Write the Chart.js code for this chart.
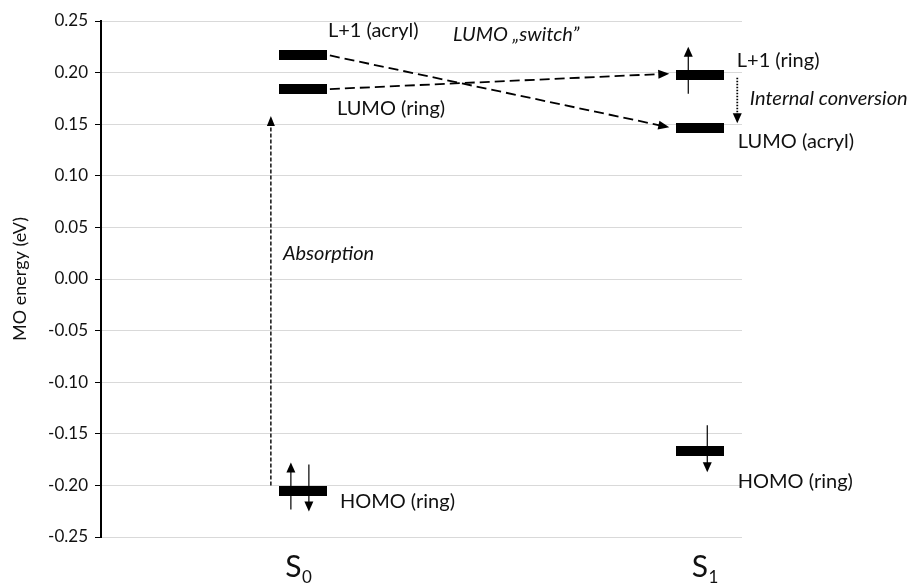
<!DOCTYPE html>
<html>
<head>
<meta charset="utf-8">
<script src="https://cdn.jsdelivr.net/npm/chart.js@4.4.1/dist/chart.umd.min.js"></script>
<style>
  html, body { margin: 0; padding: 0; background: #fff; }
  #wrap { width: 922px; height: 583px; position: relative; }
</style>
</head>
<body>
<div id="wrap"><canvas id="mo-chart"></canvas></div>
<script>
// states on the x axis and where they sit
const STATE_NAMES = ['S', 'S'];
const STATE_SUBS  = ['0', '1'];
const STATE_X     = [1, 3];

// orbital energies (eV), order: upper, lower, HOMO
const S0_ENERGY = [0.2166, 0.184, -0.205];
const S1_ENERGY = [0.198, 0.146, -0.167];
const S0_LABELS = ['L+1 (acryl)', 'LUMO (ring)', 'HOMO (ring)'];
const S1_LABELS = ['L+1 (ring)', 'LUMO (acryl)', 'HOMO (ring)'];
const S0_SPINS  = ['', '', 'updown'];
const S1_SPINS  = ['up', '', 'down'];

const Y_TICKS = [-0.25, -0.20, -0.15, -0.10, -0.05, 0.00, 0.05, 0.10, 0.15, 0.20, 0.25];

const FONT = 'Lato, "Open Sans", sans-serif';
const INK  = '#111';

// a level is drawn as a thick black bar
const barImg = document.createElement('canvas');
barImg.width = 48;
barImg.height = 10;
(function () {
    const c = barImg.getContext('2d');
    c.fillStyle = '#000';
    c.fillRect(0, 0, 48, 10);
})();

const levelPoints = [
    ...S0_ENERGY.map(e => ({ x: STATE_X[0], y: e })),
    ...S1_ENERGY.map(e => ({ x: STATE_X[1], y: e })),
];

function arrowHead(ctx, x, y, ang, len, w) {
    ctx.save();
    ctx.translate(x, y);
    ctx.rotate(ang);
    ctx.beginPath();
    ctx.moveTo(0, 0);
    ctx.lineTo(-len, -w / 2);
    ctx.lineTo(-len, w / 2);
    ctx.closePath();
    ctx.fill();
    ctx.restore();
}

function arrow(ctx, x1, y1, x2, y2, dash, lw, len, w) {
    const ang = Math.atan2(y2 - y1, x2 - x1);
    ctx.save();
    ctx.strokeStyle = '#000';
    ctx.fillStyle = '#000';
    ctx.lineWidth = lw;
    ctx.setLineDash(dash);
    ctx.beginPath();
    ctx.moveTo(x1, y1);
    ctx.lineTo(x2 - Math.cos(ang) * (len - 1), y2 - Math.sin(ang) * (len - 1));
    ctx.stroke();
    ctx.setLineDash([]);
    arrowHead(ctx, x2, y2, ang, len, w);
    ctx.restore();
}

function spin(ctx, cx, cy, dir) {
    if (dir === 'up') arrow(ctx, cx - 12, cy + 19, cx - 12, cy - 28, [], 1.2, 10, 9);
    if (dir === 'down') arrow(ctx, cx + 7, cy - 26, cx + 7, cy + 21, [], 1.2, 10, 9);
}

const diagramPlugin = {
    id: 'diagram',
    afterDatasetsDraw(chart) {
        const { ctx } = chart;
        const xs = chart.scales.x, ys = chart.scales.y;
        const s0x = xs.getPixelForValue(STATE_X[0]);
        const s1x = xs.getPixelForValue(STATE_X[1]);
        const s0y = S0_ENERGY.map(e => ys.getPixelForValue(e));
        const s1y = S1_ENERGY.map(e => ys.getPixelForValue(e));
        const half = barImg.width / 2;

        // LUMO switch connectors
        arrow(ctx, s0x + half + 3, s0y[0], s1x - half - 7, s1y[1] - 1, [10, 5], 1.8, 11, 9);
        arrow(ctx, s0x + half + 3, s0y[1], s1x - half - 7, s1y[0] - 1, [10, 5], 1.8, 11, 9);

        // absorption, HOMO -> LUMO in S0
        arrow(ctx, s0x - 32, s0y[2] - 5, s0x - 32, s0y[1] + 27, [4, 2], 1.4, 10, 8);

        // internal conversion in S1
        arrow(ctx, s1x + 37, s1y[0] + 3, s1x + 37, s1y[1] - 5, [1.5, 1.5], 1.8, 10, 9);

        // electron spins
        S0_SPINS.forEach((d, i) => {
            if (d === 'updown') { spin(ctx, s0x, s0y[i], 'up'); spin(ctx, s0x - 1, s0y[i], 'down'); }
            else spin(ctx, s0x, s0y[i], d);
        });
        S1_SPINS.forEach((d, i) => spin(ctx, s1x, s1y[i], d));

        ctx.save();
        ctx.fillStyle = INK;
        ctx.textAlign = 'left';
        ctx.textBaseline = 'alphabetic';
        ctx.font = `20px ${FONT}`;
        const s0off = [[25, -18], [34, 26], [37, 17.5]];
        const s1off = [[36.5, -7.5], [37.5, 20], [37.5, 37]];
        S0_LABELS.forEach((t, i) => ctx.fillText(t, s0x + s0off[i][0], s0y[i] + s0off[i][1]));
        S1_LABELS.forEach((t, i) => ctx.fillText(t, s1x + s1off[i][0], s1y[i] + s1off[i][1]));

        ctx.font = `italic 20px ${FONT}`;
        ctx.fillText('LUMO \u201Eswitch\u201D', 453, 41);
        ctx.fillText('Internal conversion', s1x + 49.5, s1y[0] + 30.5);
        ctx.fillText('Absorption', s0x - 20, 260);

        // state labels under the axis
        const nudge = [-4.5, 4.5];
        [s0x, s1x].forEach((px, i) => {
            ctx.font = `30px ${FONT}`;
            const wS = ctx.measureText(STATE_NAMES[i]).width;
            ctx.font = `17px ${FONT}`;
            const wSub = ctx.measureText(STATE_SUBS[i]).width;
            const left = px + nudge[i] - (wS + wSub) / 2;
            ctx.font = `30px ${FONT}`;
            ctx.fillText(STATE_NAMES[i], left, 577);
            ctx.font = `17px ${FONT}`;
            ctx.fillText(STATE_SUBS[i], left + wS + 0.5, 583);
        });
        ctx.restore();
    },
};

new Chart(document.getElementById('mo-chart').getContext('2d'), {
    type: 'scatter',
    data: {
        datasets: [{
            data: levelPoints,
            pointStyle: barImg,
            pointRadius: 5,
            pointHoverRadius: 5,
            showLine: false,
        }],
    },
    options: {
        responsive: true,
        maintainAspectRatio: false,
        animation: false,
        events: [],
        layout: { padding: { top: 21, right: 180, bottom: 46, left: 0 } },
        plugins: { legend: { display: false }, tooltip: { enabled: false } },
        scales: {
            x: { type: 'linear', min: -0.016, max: 3.21, display: false },
            y: {
                min: -0.25,
                max: 0.25,
                afterBuildTicks: s => { s.ticks = Y_TICKS.map(v => ({ value: v })); },
                afterFit: s => { s.width = 101; },
                ticks: {
                    color: INK,
                    padding: 7,
                    font: { family: FONT, size: 17 },
                    callback: v => (Math.abs(v) < 1e-9 ? 0 : v).toFixed(2),
                },
                grid: { color: '#d9d9d9', lineWidth: 1, tickColor: '#000', tickLength: 6 },
                border: { color: '#000', width: 2 },
                title: {
                    display: true,
                    text: 'MO energy (eV)',
                    color: INK,
                    font: { family: FONT, size: 18 },
                    padding: { top: 9, bottom: 0 },
                },
            },
        },
    },
    plugins: [diagramPlugin],
});
</script>
</body>
</html>
